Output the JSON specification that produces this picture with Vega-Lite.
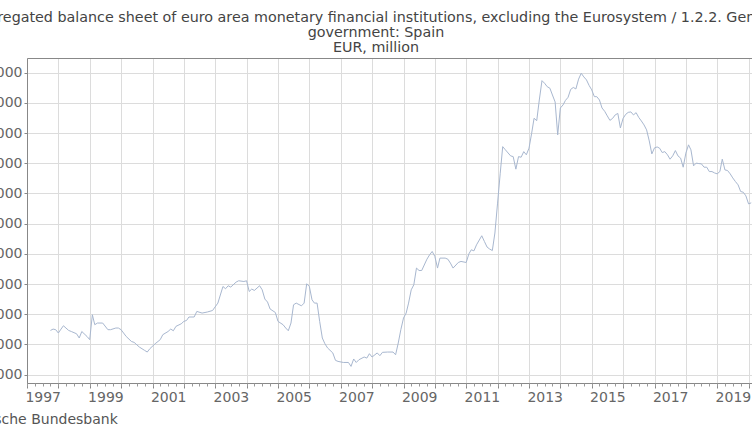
{
  "$schema": "https://vega.github.io/schema/vega-lite/v6.json",
  "autosize": {"type": "none"},
  "width": 725,
  "height": 325,
  "padding": {"left": 27, "top": 58, "right": 0, "bottom": 57},
  "background": "white",
  "config": {"view": {"stroke": null}, "font": "DejaVu Sans"},
  "title": {
    "text": ["Aggregated balance sheet of euro area monetary financial institutions, excluding the Eurosystem / 1.2.2. General", "government: Spain", "EUR, million"],
    "font": "DejaVu Sans",
    "fontSize": 14.3,
    "fontWeight": "normal",
    "color": "#444444",
    "lineHeight": 15,
    "anchor": "middle",
    "dx": -13.5,
    "offset": 3
  },
  "data": {
    "values": [
      {"date": "1997-10", "value": 44650}, {"date": "1997-11", "value": 45100}, {"date": "1997-12", "value": 44900},
      {"date": "1998-01", "value": 43800}, {"date": "1998-02", "value": 45100}, {"date": "1998-03", "value": 46200},
      {"date": "1998-05", "value": 44650}, {"date": "1998-06", "value": 44300}, {"date": "1998-08", "value": 43550},
      {"date": "1998-09", "value": 42150}, {"date": "1998-10", "value": 44300}, {"date": "1998-12", "value": 42650},
      {"date": "1999-01", "value": 41600}, {"date": "1999-02", "value": 49850}, {"date": "1999-03", "value": 46550},
      {"date": "1999-04", "value": 47100}, {"date": "1999-06", "value": 47100}, {"date": "1999-08", "value": 44900},
      {"date": "1999-09", "value": 44900}, {"date": "1999-11", "value": 45450}, {"date": "1999-12", "value": 45450},
      {"date": "2000-01", "value": 44900}, {"date": "2000-03", "value": 42650}, {"date": "2000-05", "value": 41000},
      {"date": "2000-06", "value": 40700}, {"date": "2000-08", "value": 39150}, {"date": "2000-10", "value": 38050},
      {"date": "2000-11", "value": 37500}, {"date": "2000-12", "value": 38600}, {"date": "2001-02", "value": 40250},
      {"date": "2001-04", "value": 41600}, {"date": "2001-05", "value": 43250}, {"date": "2001-07", "value": 44300},
      {"date": "2001-08", "value": 45100}, {"date": "2001-09", "value": 44550}, {"date": "2001-10", "value": 46000},
      {"date": "2001-12", "value": 46850}, {"date": "2002-01", "value": 47650}, {"date": "2002-02", "value": 47950},
      {"date": "2002-03", "value": 49100}, {"date": "2002-05", "value": 49100}, {"date": "2002-06", "value": 50950},
      {"date": "2002-08", "value": 50400}, {"date": "2002-10", "value": 50750}, {"date": "2002-12", "value": 51250},
      {"date": "2003-02", "value": 53700}, {"date": "2003-04", "value": 59200}, {"date": "2003-05", "value": 58450},
      {"date": "2003-06", "value": 59450}, {"date": "2003-07", "value": 59000}, {"date": "2003-09", "value": 60650},
      {"date": "2003-10", "value": 61100}, {"date": "2003-12", "value": 60850}, {"date": "2004-01", "value": 61100},
      {"date": "2004-02", "value": 57550}, {"date": "2004-03", "value": 58350}, {"date": "2004-04", "value": 57900},
      {"date": "2004-06", "value": 59450}, {"date": "2004-07", "value": 58100}, {"date": "2004-08", "value": 55050},
      {"date": "2004-09", "value": 54050}, {"date": "2004-10", "value": 51750}, {"date": "2004-12", "value": 50600},
      {"date": "2005-01", "value": 47650}, {"date": "2005-03", "value": 46550}, {"date": "2005-04", "value": 45450},
      {"date": "2005-05", "value": 44550}, {"date": "2005-06", "value": 47100}, {"date": "2005-07", "value": 53150},
      {"date": "2005-08", "value": 53700}, {"date": "2005-10", "value": 52800}, {"date": "2005-11", "value": 53700},
      {"date": "2005-12", "value": 60100}, {"date": "2006-01", "value": 59200}, {"date": "2006-02", "value": 54800},
      {"date": "2006-03", "value": 53700}, {"date": "2006-04", "value": 53700}, {"date": "2006-05", "value": 47650},
      {"date": "2006-06", "value": 42150}, {"date": "2006-07", "value": 40250}, {"date": "2006-08", "value": 38850},
      {"date": "2006-10", "value": 37200}, {"date": "2006-11", "value": 34750}, {"date": "2006-12", "value": 34400},
      {"date": "2007-02", "value": 34050}, {"date": "2007-04", "value": 34050}, {"date": "2007-05", "value": 32750},
      {"date": "2007-06", "value": 35200}, {"date": "2007-07", "value": 34050}, {"date": "2007-08", "value": 34950},
      {"date": "2007-10", "value": 35850}, {"date": "2007-11", "value": 35500}, {"date": "2007-12", "value": 36950},
      {"date": "2008-01", "value": 35850}, {"date": "2008-03", "value": 37200}, {"date": "2008-04", "value": 36300},
      {"date": "2008-05", "value": 37400}, {"date": "2008-07", "value": 37500}, {"date": "2008-09", "value": 37500},
      {"date": "2008-10", "value": 36600}, {"date": "2008-11", "value": 40500}, {"date": "2008-12", "value": 44900},
      {"date": "2009-01", "value": 48750}, {"date": "2009-02", "value": 50400}, {"date": "2009-03", "value": 53700},
      {"date": "2009-04", "value": 58100}, {"date": "2009-05", "value": 59750}, {"date": "2009-06", "value": 65300},
      {"date": "2009-07", "value": 64500}, {"date": "2009-08", "value": 64500}, {"date": "2009-10", "value": 68250},
      {"date": "2009-11", "value": 69700}, {"date": "2009-12", "value": 70800}, {"date": "2010-01", "value": 69150},
      {"date": "2010-02", "value": 65300}, {"date": "2010-03", "value": 68600}, {"date": "2010-05", "value": 68600},
      {"date": "2010-06", "value": 68250}, {"date": "2010-07", "value": 66950}, {"date": "2010-08", "value": 65300},
      {"date": "2010-10", "value": 67150}, {"date": "2010-11", "value": 67500}, {"date": "2011-01", "value": 67150},
      {"date": "2011-02", "value": 70000}, {"date": "2011-03", "value": 71350}, {"date": "2011-04", "value": 71000},
      {"date": "2011-05", "value": 73000}, {"date": "2011-07", "value": 76000}, {"date": "2011-08", "value": 74100},
      {"date": "2011-09", "value": 72250}, {"date": "2011-10", "value": 71600}, {"date": "2011-11", "value": 71100},
      {"date": "2011-12", "value": 76900}, {"date": "2012-01", "value": 86800}, {"date": "2012-02", "value": 96700},
      {"date": "2012-03", "value": 105500}, {"date": "2012-04", "value": 104450}, {"date": "2012-06", "value": 102450},
      {"date": "2012-07", "value": 102200}, {"date": "2012-08", "value": 98050}, {"date": "2012-09", "value": 102200},
      {"date": "2012-10", "value": 102000}, {"date": "2012-11", "value": 103850}, {"date": "2012-12", "value": 102800},
      {"date": "2013-01", "value": 105000}, {"date": "2013-02", "value": 109950}, {"date": "2013-03", "value": 114900},
      {"date": "2013-04", "value": 114100}, {"date": "2013-05", "value": 120950}, {"date": "2013-06", "value": 127350},
      {"date": "2013-07", "value": 126500}, {"date": "2013-08", "value": 125350}, {"date": "2013-09", "value": 124850},
      {"date": "2013-10", "value": 122600}, {"date": "2013-11", "value": 120300}, {"date": "2013-12", "value": 109400},
      {"date": "2014-01", "value": 118300}, {"date": "2014-02", "value": 119300}, {"date": "2014-03", "value": 120800},
      {"date": "2014-04", "value": 121850}, {"date": "2014-05", "value": 124450}, {"date": "2014-06", "value": 125100},
      {"date": "2014-07", "value": 124600}, {"date": "2014-08", "value": 127850}, {"date": "2014-09", "value": 129800},
      {"date": "2014-10", "value": 128600}, {"date": "2014-11", "value": 127600}, {"date": "2014-12", "value": 125800},
      {"date": "2015-01", "value": 124300}, {"date": "2015-02", "value": 122050}, {"date": "2015-03", "value": 122050},
      {"date": "2015-04", "value": 120950}, {"date": "2015-05", "value": 118300}, {"date": "2015-06", "value": 117200},
      {"date": "2015-07", "value": 115700}, {"date": "2015-08", "value": 114200}, {"date": "2015-09", "value": 114850},
      {"date": "2015-10", "value": 116000}, {"date": "2015-11", "value": 116500}, {"date": "2015-12", "value": 111700},
      {"date": "2016-01", "value": 114850}, {"date": "2016-02", "value": 116200}, {"date": "2016-03", "value": 116850},
      {"date": "2016-04", "value": 117000}, {"date": "2016-05", "value": 116000}, {"date": "2016-06", "value": 116750},
      {"date": "2016-07", "value": 115200}, {"date": "2016-08", "value": 114000}, {"date": "2016-09", "value": 112700},
      {"date": "2016-10", "value": 111050}, {"date": "2016-11", "value": 107400}, {"date": "2016-12", "value": 103100},
      {"date": "2017-01", "value": 105100}, {"date": "2017-02", "value": 105400}, {"date": "2017-03", "value": 105000},
      {"date": "2017-04", "value": 103550}, {"date": "2017-05", "value": 103850}, {"date": "2017-06", "value": 102800},
      {"date": "2017-07", "value": 101350}, {"date": "2017-08", "value": 102450}, {"date": "2017-09", "value": 104200},
      {"date": "2017-10", "value": 102450}, {"date": "2017-11", "value": 101700}, {"date": "2017-12", "value": 98700},
      {"date": "2018-01", "value": 103350}, {"date": "2018-02", "value": 106100}, {"date": "2018-03", "value": 104450},
      {"date": "2018-04", "value": 99150}, {"date": "2018-05", "value": 100050}, {"date": "2018-06", "value": 99900},
      {"date": "2018-07", "value": 99800}, {"date": "2018-08", "value": 98700}, {"date": "2018-09", "value": 98700},
      {"date": "2018-10", "value": 97250}, {"date": "2018-11", "value": 97250}, {"date": "2018-12", "value": 96800},
      {"date": "2019-01", "value": 96500}, {"date": "2019-02", "value": 97250}, {"date": "2019-03", "value": 101350},
      {"date": "2019-04", "value": 97800}, {"date": "2019-05", "value": 97600}, {"date": "2019-06", "value": 96500},
      {"date": "2019-07", "value": 95150}, {"date": "2019-08", "value": 93950}, {"date": "2019-09", "value": 92850},
      {"date": "2019-10", "value": 90650}, {"date": "2019-11", "value": 90400}, {"date": "2019-12", "value": 89200},
      {"date": "2020-01", "value": 86550}, {"date": "2020-02", "value": 86900}
    ]
  },
  "encoding": {
    "y": {
      "field": "value",
      "type": "quantitative",
      "scale": {"domain": [27250, 134850], "nice": false, "zero": false},
      "axis": {
        "values": [30000, 40000, 50000, 60000, 70000, 80000, 90000, 100000, 110000, 120000, 130000],
        "labelExpr": "format(datum.value, ',.0f')",
        "title": null,
        "grid": true,
        "gridColor": "#dcdcdc",
        "tickSize": 3,
        "tickColor": "#888888",
        "domainColor": "#888888",
        "labelFont": "DejaVu Sans",
        "labelFontSize": 14,
        "labelColor": "#666666",
        "labelPadding": 2
      }
    }
  },
  "layer": [
    {
      "mark": {"type": "line", "color": "#a8b7cf", "strokeWidth": 1, "clip": true},
      "encoding": {
        "x": {
          "field": "date",
          "type": "temporal",
          "scale": {"type": "utc", "domain": ["1997-01-01", "2020-02-10"]},
          "axis": {
            "orient": "bottom",
            "tickCount": {"interval": "year", "step": 1},
            "labelExpr": "utcyear(datum.value) % 2 === 1 ? utcFormat(datum.value, '%Y') : ''",
            "labelOffset": 15.7,
            "labelOverlap": false,
            "labelFlush": false,
            "labelBound": false,
            "labelFont": "DejaVu Sans",
            "labelFontSize": 14,
            "labelColor": "#666666",
            "labelPadding": 2,
            "tickSize": 5,
            "tickColor": "#888888",
            "domainColor": "#888888",
            "grid": true,
            "gridColor": "#dcdcdc",
            "title": "Deutsche Bundesbank",
            "titleFont": "DejaVu Sans",
            "titleFontSize": 14,
            "titleFontWeight": "normal",
            "titleColor": "#555555",
            "titleAlign": "left",
            "titleBaseline": "alphabetic",
            "titleX": -67,
            "titleY": 40
          }
        }
      }
    },
    {
      "mark": {"type": "line", "opacity": 0},
      "encoding": {
        "x": {
          "field": "date",
          "type": "temporal",
          "scale": {"type": "utc", "domain": ["1997-01-01", "2020-02-10"]},
          "axis": {
            "orient": "bottom",
            "tickCount": {"interval": "month", "step": 3},
            "labels": false,
            "grid": false,
            "domain": false,
            "tickSize": 3,
            "tickColor": "#999999",
            "title": null
          }
        }
      }
    },
    {
      "mark": {"type": "line", "opacity": 0},
      "encoding": {
        "x": {
          "field": "date",
          "type": "temporal",
          "scale": {"type": "utc", "domain": ["1997-01-01", "2020-02-10"]},
          "axis": {
            "orient": "top",
            "labels": false,
            "ticks": false,
            "grid": false,
            "domain": true,
            "domainColor": "#888888",
            "title": null
          }
        }
      }
    }
  ],
  "resolve": {"axis": {"x": "independent"}}
}
